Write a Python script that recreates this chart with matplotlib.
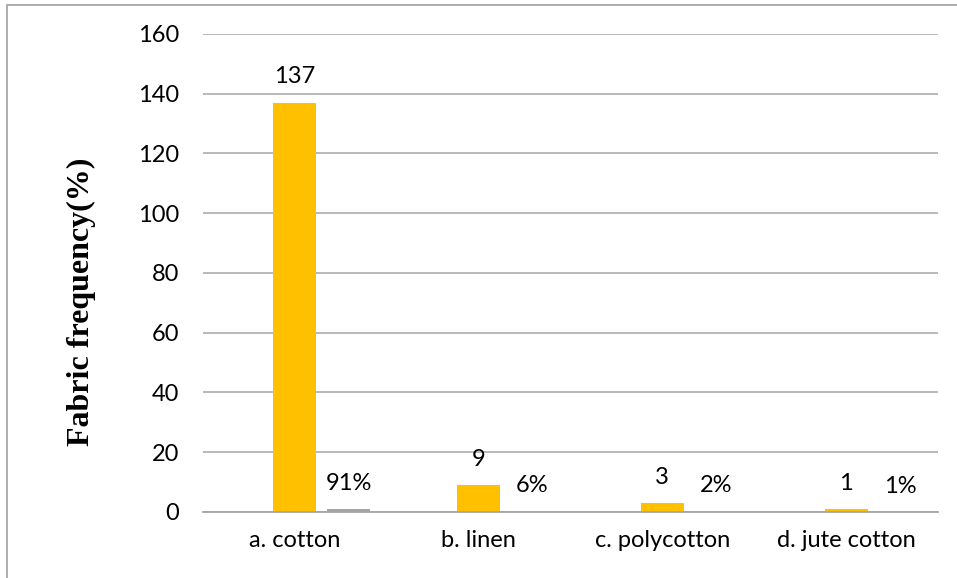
import matplotlib
matplotlib.use("Agg")
import matplotlib.pyplot as plt
from matplotlib.patches import Rectangle
import numpy as np

# =========================
# Data
# =========================
categories = ["a. cotton", "b. linen", "c. polycotton", "d. jute cotton"]
counts = [137, 9, 3, 1]
shares = [0.91, 0.06, 0.02, 0.01]
share_labels = ["91%", "6%", "2%", "1%"]
yticks = [0, 20, 40, 60, 80, 100, 120, 140, 160]

gold = "#FFC000"
gray = "#A5A5A5"
grid_col = "#A6A6A6"
txt = "#000000"

plt.rcParams["font.family"] = ["Lato", "DejaVu Sans"]

fig = plt.figure(figsize=(9.57, 5.78), dpi=100)
ax = fig.add_axes([0.2121, 0.1142, 0.768, 0.827])

x = np.arange(len(categories))
w = 0.234
bars1 = ax.bar(x, counts, width=w, color=gold, zorder=3)
bars2 = ax.bar(x + 0.293, shares, width=w, color=gray, zorder=3)

# labels above bars
for bar, val in zip(bars1, counts):
    ax.annotate(str(val), (bar.get_x() + bar.get_width() / 2, bar.get_height()),
                xytext=(0, 14), textcoords="offset points",
                ha="center", va="baseline", fontsize=17, color=txt)
for bar, lab in zip(bars2, share_labels):
    ax.annotate(lab, (bar.get_x() + bar.get_width() / 2, bar.get_height()),
                xytext=(0, 14), textcoords="offset points",
                ha="center", va="baseline", fontsize=17, color=txt)

ax.set_xlim(-0.5, 3.5)
ax.set_ylim(0, 160)
ax.set_yticks(yticks)
ax.set_xticks(x)
ax.set_xticklabels(categories)
ax.tick_params(axis="both", length=0, labelsize=17, colors=txt)
ax.tick_params(axis="y", pad=17)
ax.tick_params(axis="x", pad=13)
ax.yaxis.grid(True, color=grid_col, linewidth=1.1, zorder=0)
for s in ["top", "right", "left"]:
    ax.spines[s].set_visible(False)
ax.spines["bottom"].set_color(grid_col)
ax.spines["bottom"].set_linewidth(1.3)
ax.spines["bottom"].set_zorder(4)

ax.set_ylabel("Fabric frequency(%)", family="Liberation Serif", fontweight="bold",
              fontsize=23, color=txt)
ax.yaxis.set_label_coords(-0.145, 0.439)

# outer chart border
fig.patches.append(Rectangle((7 / 957, -0.1), 1.2, 1.1 - 5 / 578, transform=fig.transFigure,
                             fill=False, edgecolor="#A0A0A0", linewidth=1.2))

fig.savefig("out.png", dpi=100)
